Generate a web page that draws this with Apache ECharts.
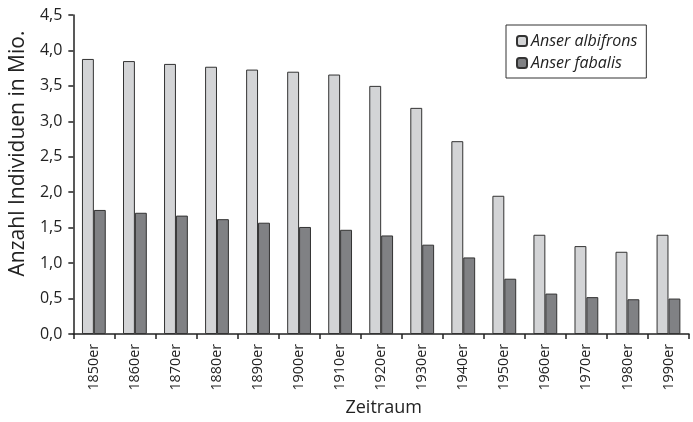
<!DOCTYPE html>
<html><head><meta charset="utf-8">
<script src="https://cdn.jsdelivr.net/npm/echarts@6/dist/echarts.min.js"></script>
<style>html,body{margin:0;padding:0;background:#fff}#c{width:693px;height:422px}</style>
</head><body><div id="c"></div>
<script>
const categories = ['1850er','1860er','1870er','1880er','1890er','1900er','1910er','1920er','1930er','1940er','1950er','1960er','1970er','1980er','1990er'];
const albifrons = [3.88,3.85,3.81,3.77,3.73,3.70,3.66,3.50,3.19,2.72,1.95,1.40,1.24,1.16,1.40];
const fabalis = [1.75,1.71,1.67,1.62,1.57,1.51,1.47,1.39,1.26,1.08,0.78,0.57,0.52,0.49,0.50];
const yTicks = {min:0, max:4.5, interval:0.5};
const FONT = 'Open Sans';
const chart = echarts.init(document.getElementById('c'));
chart.setOption({
  animation:false,
  textStyle:{fontFamily:FONT},
  grid:{left:68.5, right:4, top:15, bottom:83, containLabel:false},
  legend:{
    orient:'vertical', left:506, top:25,
    itemWidth:10, itemHeight:10, itemGap:6,
    padding:[8,9,7,10],
    borderColor:'#333', borderWidth:1,
    textStyle:{fontFamily:FONT, fontSize:16, fontStyle:'italic', color:'#222', padding:[0,0,0,-1]},
    data:['Anser albifrons','Anser fabalis']
  },
  xAxis:{
    type:'category', data:categories,
    name:'Zeitraum', nameLocation:'middle', nameGap:65,
    nameTextStyle:{fontFamily:FONT, fontSize:18, color:'#222', padding:[0,0,0,5]},
    axisLine:{lineStyle:{color:'#222', width:1.5}},
    axisTick:{show:true, length:5, lineStyle:{color:'#222', width:1.5}},
    axisLabel:{rotate:90, fontSize:14.3, color:'#222', margin:10, fontFamily:FONT}
  },
  yAxis:{
    type:'value', min:yTicks.min, max:yTicks.max, interval:yTicks.interval,
    name:'Anzahl Individuen in Mio.', nameLocation:'middle', nameGap:38,
    nameTextStyle:{fontFamily:FONT, fontSize:21, color:'#222', padding:[0,0,0,42]},
    splitLine:{show:false},
    axisLine:{show:true, lineStyle:{color:'#222', width:1.5}},
    axisTick:{show:true, length:5, lineStyle:{color:'#222', width:1.5}},
    axisLabel:{fontSize:16, color:'#222', margin:11, fontFamily:FONT,
      formatter:v=>v.toFixed(1).replace('.',',')}
  },
  series:[
    {name:'Anser albifrons', type:'bar', data:albifrons, barWidth:'29%', barGap:'0%',
     itemStyle:{color:'#d3d4d6', borderColor:'#333', borderWidth:1}},
    {name:'Anser fabalis', type:'bar', data:fabalis, barWidth:'29%', barGap:'0%',
     itemStyle:{color:'#808184', borderColor:'#333', borderWidth:1}}
  ]
});
</script></body></html>
